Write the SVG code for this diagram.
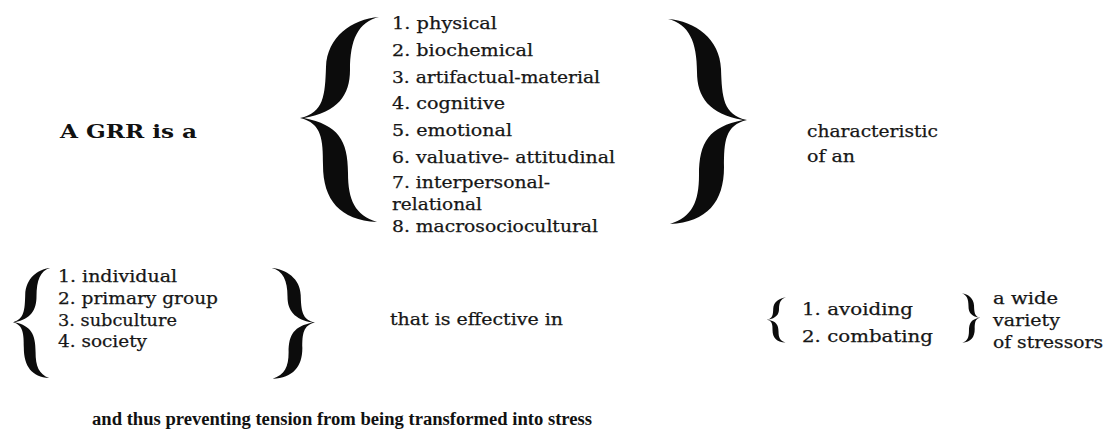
<svg xmlns="http://www.w3.org/2000/svg" width="1105" height="432" viewBox="0 0 1105 432">
<defs>
<style>
.t{font-family:"DejaVu Serif","Liberation Serif",serif;font-size:17px;fill:#161616;stroke:#161616;stroke-width:0.25}
.b{font-family:"Liberation Serif","DejaVu Serif",serif;font-weight:bold;fill:#111}
.br{fill:#0c0c0c}
</style>
<path id="brace" d="M 79,2 C 52,4 27,22 26,52 C 25,80 24,98 0,103 C 22,108 23,125 23,150 C 23,185 40,205 77,207 C 55,200 48,185 48,158 C 48,125 38,110 4,103 C 38,97 50,80 50,55 C 50,25 58,7 79,2 Z"/>
</defs>
<rect width="1105" height="432" fill="#ffffff"/>

<g id="grr-label">
<text x="60" y="138" font-size="19" class="b" style="font-family:'DejaVu Serif','Liberation Serif',serif" textLength="137" lengthAdjust="spacingAndGlyphs">A GRR is a</text>
</g>

<g id="resource-types">
<use href="#brace" class="br" transform="translate(300,15)"/>
<text class="t" x="392" y="29" textLength="105" lengthAdjust="spacingAndGlyphs">1. physical</text>
<text class="t" x="392" y="56" textLength="141" lengthAdjust="spacingAndGlyphs">2. biochemical</text>
<text class="t" x="392" y="83" textLength="208" lengthAdjust="spacingAndGlyphs">3. artifactual-material</text>
<text class="t" x="392" y="109" textLength="113" lengthAdjust="spacingAndGlyphs">4. cognitive</text>
<text class="t" x="392" y="136" textLength="120" lengthAdjust="spacingAndGlyphs">5. emotional</text>
<text class="t" x="392" y="163" textLength="223" lengthAdjust="spacingAndGlyphs">6. valuative- attitudinal</text>
<text class="t" x="392" y="188" textLength="158" lengthAdjust="spacingAndGlyphs">7. interpersonal-</text>
<text class="t" x="392" y="210" textLength="90" lengthAdjust="spacingAndGlyphs">relational</text>
<text class="t" x="392" y="232" textLength="206" lengthAdjust="spacingAndGlyphs">8. macrosociocultural</text>
<use href="#brace" class="br" transform="translate(747,17) scale(-1,1)"/>
</g>

<g id="characteristic">
<text class="t" x="807" y="137" textLength="131" lengthAdjust="spacingAndGlyphs">characteristic</text>
<text class="t" x="807" y="162" textLength="48" lengthAdjust="spacingAndGlyphs">of an</text>
</g>

<g id="levels">
<use href="#brace" class="br" transform="translate(13,267) scale(0.47,0.536)"/>
<text class="t" x="58" y="282" textLength="119" lengthAdjust="spacingAndGlyphs">1. individual</text>
<text class="t" x="58" y="304" textLength="160" lengthAdjust="spacingAndGlyphs">2. primary group</text>
<text class="t" x="58" y="326" textLength="119" lengthAdjust="spacingAndGlyphs">3. subculture</text>
<text class="t" x="58" y="347" textLength="89" lengthAdjust="spacingAndGlyphs">4. society</text>
<use href="#brace" class="br" transform="translate(315,267) scale(-0.55,0.54)"/>
</g>

<g id="effective">
<text class="t" x="390" y="325" textLength="173" lengthAdjust="spacingAndGlyphs">that is effective in</text>
</g>

<g id="actions">
<use href="#brace" class="br" transform="translate(767,297) scale(0.24,0.22)"/>
<text class="t" x="802" y="315" textLength="111" lengthAdjust="spacingAndGlyphs">1. avoiding</text>
<text class="t" x="802" y="342" textLength="131" lengthAdjust="spacingAndGlyphs">2. combating</text>
<use href="#brace" class="br" transform="translate(980,293) scale(-0.23,0.24)"/>
</g>

<g id="stressors">
<text class="t" x="993" y="304" textLength="65" lengthAdjust="spacingAndGlyphs">a wide</text>
<text class="t" x="993" y="326" textLength="67" lengthAdjust="spacingAndGlyphs">variety</text>
<text class="t" x="993" y="348" textLength="110" lengthAdjust="spacingAndGlyphs">of stressors</text>
</g>

<g id="conclusion">
<text class="b" x="92" y="425" font-size="18" textLength="500" lengthAdjust="spacingAndGlyphs">and thus preventing tension from being transformed into stress</text>
</g>
</svg>
